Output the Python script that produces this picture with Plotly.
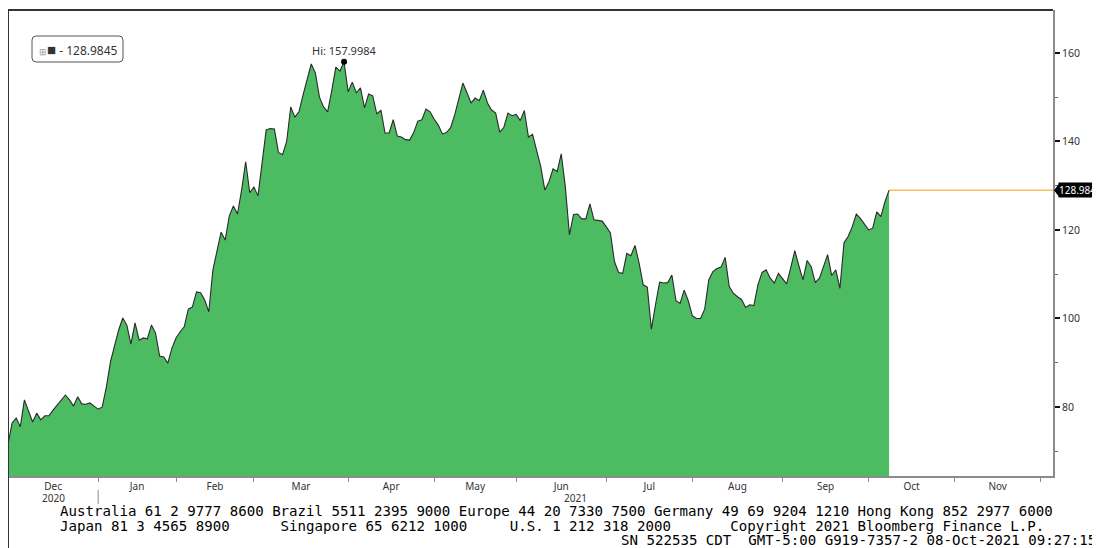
import pandas as pd
import plotly.graph_objects as go

# ---------------- data ----------------
START = "2020-12-01"
AXIS_END = "2021-12-04"
HOLIDAYS = ["2020-12-25", "2021-01-01", "2021-01-18", "2021-02-15", "2021-04-02",
            "2021-05-31", "2021-07-05", "2021-09-06", "2021-11-25"]

VALUES = [
    71.5, 76.4, 77.5, 75.5, 81.6, 78.9, 76.6, 78.6, 77.1, 78.0,
    78.0, 79.3, 80.4, 81.5, 82.7, 81.6, 80.2, 82.3, 80.7, 80.6,
    80.9, 80.2, 79.5, 80.0, 84.5, 90.2, 94.0, 97.4, 100.1, 98.5,
    94.2, 99.0, 95.1, 95.6, 95.4, 98.5, 96.7, 91.5, 91.3, 89.9,
    93.3, 95.6, 97.0, 98.1, 102.1, 102.6, 106.0, 105.8, 104.2, 101.5,
    111.0, 115.5, 119.5, 117.7, 123.2, 125.4, 123.6, 129.0, 135.4, 128.4,
    129.7, 127.7, 135.8, 142.6, 142.9, 142.8, 137.5, 137.0, 140.0, 147.8,
    145.5, 146.7, 150.5, 154.0, 157.5, 155.5, 150.0, 147.8, 146.7, 151.5,
    156.8, 155.9, 157.9984, 151.2, 153.4, 151.0, 152.1, 147.6, 150.7, 150.3,
    146.2, 147.1, 141.9, 141.9, 144.9, 141.2, 141.0, 140.4, 140.3, 142.0,
    144.6, 144.9, 147.3, 146.7, 145.0, 143.7, 141.7, 142.0, 143.1, 146.0,
    149.5, 153.2, 151.0, 148.7, 149.8, 149.2, 151.6, 148.7, 147.1, 146.4,
    142.1, 143.2, 146.4, 145.8, 146.1, 144.7, 147.0, 141.0, 141.6, 138.1,
    134.3, 129.0, 130.9, 133.8, 133.2, 137.2, 129.8, 118.9, 123.5, 123.6,
    122.5, 122.5, 125.9, 122.3, 122.1, 122.0, 120.7, 119.3, 112.8, 110.4,
    110.2, 114.7, 114.2, 116.5, 112.5, 107.6, 107.1, 97.6, 103.1, 108.2,
    108.0, 108.1, 109.8, 104.0, 103.4, 106.4, 104.0, 100.6, 100.0, 100.0,
    102.1, 108.7, 110.6, 111.3, 111.6, 113.8, 107.2, 105.7, 104.9, 104.3,
    102.5, 103.1, 102.9, 107.6, 110.4, 111.0, 109.1, 108.0, 110.2, 108.9,
    107.8, 111.5, 115.3, 111.9, 108.7, 113.1, 111.7, 108.1, 109.1, 111.7,
    114.4, 109.7, 111.0, 106.8, 117.1, 118.5, 120.7, 123.6, 122.6, 121.3,
    120.0, 120.4, 124.1, 123.0, 126.4, 128.9845,
]

LAST_LABEL = "128.984"
LEGEND_TEXT = "128.9845"
Y_RANGE = [64.4, 169.7]
Y_TICKS = [80, 100, 120, 140, 160]
MONTHS = ["2020-12", "2021-01", "2021-02", "2021-03", "2021-04", "2021-05", "2021-06",
          "2021-07", "2021-08", "2021-09", "2021-10", "2021-11", "2021-12"]
FOOTER_1 = "Australia 61 2 9777 8600 Brazil 5511 2395 9000 Europe 44 20 7330 7500 Germany 49 69 9204 1210 Hong Kong 852 2977 6000"
FOOTER_2 = "Japan 81 3 4565 8900      Singapore 65 6212 1000     U.S. 1 212 318 2000       Copyright 2021 Bloomberg Finance L.P."
FOOTER_3 = "SN 522535 CDT  GMT-5:00 G919-7357-2 08-Oct-2021 09:27:15"

# ---------------- geometry helpers ----------------
# the page body has an 8px margin, so the figure is drawn 8px smaller and
# every reference pixel position is shifted by OFF.
OFF = 8
W, H = 1100 - OFF, 548 - OFF
ML, MR, MT, MB = 0, 47, 2, 72
PW, PH = W - ML - MR, H - MT - MB


def px(x):
    return (x - OFF - ML) / PW


def py(y):
    return (H - MB - (y - OFF)) / PH


dates = pd.bdate_range(start=START, periods=len(VALUES), freq="C", holidays=HOLIDAYS)
cal = pd.bdate_range(start=START, end="2021-12-31", freq="C", holidays=HOLIDAYS)
n_axis = int((cal < pd.Timestamp(AXIS_END)).sum())


def pos_to_date(p):
    i = int(p)
    frac = p - i
    return cal[i] + pd.Timedelta(hours=24 * frac)


month_starts, month_mids, month_text = [], [], []
for m in MONTHS:
    per = pd.Period(m, "M")
    idx = [i for i, d in enumerate(cal) if d.to_period("M") == per]
    i0, n = idx[0], len(idx)
    month_starts.append(cal[i0])
    mid = i0 + n / 2
    if mid < n_axis:
        month_mids.append(pos_to_date(mid))
        month_text.append(per.strftime("%b"))

first_2021 = [i for i, d in enumerate(cal) if d.year == 2021][0]
year_pos = {"2020": pos_to_date(first_2021 / 2), "2021": pos_to_date((first_2021 + n_axis) / 2)}

vmax = max(VALUES)
imax = VALUES.index(vmax)
last = VALUES[-1]

fig = go.Figure()
fig.add_trace(go.Scatter(
    x=dates, y=VALUES, mode="lines", fill="tozeroy",
    line=dict(color="#2a2a2a", width=1.1), fillcolor="#4cbb62",
    hoverinfo="skip", showlegend=False,
))
fig.add_trace(go.Scatter(
    x=[dates[imax]], y=[vmax], mode="markers",
    marker=dict(color="black", size=6), showlegend=False, hoverinfo="skip",
))

tick_font = dict(family="Noto Sans", size=10.5, color="#333")
x_font = dict(family="Noto Sans", size=10, color="#333")
fig.update_layout(
    width=W, height=H,
    margin=dict(l=ML, r=MR, t=MT, b=MB),
    paper_bgcolor="white", plot_bgcolor="white",
    font=tick_font,
    xaxis=dict(
        type="date",
        range=[START, AXIS_END],
        rangebreaks=[dict(bounds=["sat", "mon"]), dict(values=HOLIDAYS)],
        tickmode="array", tickvals=month_mids, ticktext=month_text,
        ticks="", showgrid=False, zeroline=False,
        showline=True, linecolor="#8c8c8c", linewidth=2,
        tickfont=x_font, ticklabelstandoff=0,
        minor=dict(tickmode="array", tickvals=month_starts, ticks="outside",
                   ticklen=4, tickwidth=1, tickcolor="#8c8c8c", showgrid=False),
        automargin=False,
    ),
    yaxis=dict(
        side="right", range=Y_RANGE,
        tickmode="array", tickvals=Y_TICKS,
        ticks="outside", ticklen=5, tickwidth=2, tickcolor="#111",
        showgrid=False, zeroline=False,
        showline=True, linecolor="#8c8c8c", linewidth=2,
        tickfont=tick_font,
        minor=dict(dtick=10, tick0=0, ticks="outside", ticklen=3, tickwidth=1,
                   tickcolor="#666", showgrid=False),
        automargin=False,
    ),
)

shapes = []
# frame: top and left borders
shapes.append(dict(type="line", xref="paper", yref="paper", x0=0, x1=1, y0=1, y1=1,
                   line=dict(color="#333", width=2)))
shapes.append(dict(type="line", xref="paper", yref="paper", x0=0, x1=0, y0=py(548), y1=1,
                   line=dict(color="#333", width=2)))
# last-value line
shapes.append(dict(type="line", xref="x", yref="y", x0=dates[-1], x1=pd.Timestamp(AXIS_END),
                   y0=last, y1=last, line=dict(color="#f5a20c", width=1)))
# year separator
shapes.append(dict(type="line", xref="x", yref="paper", x0=cal[first_2021], x1=cal[first_2021],
                   y0=py(490), y1=py(504), line=dict(color="#8c8c8c", width=1)))
# last-value tag pointer
dy = (Y_RANGE[1] - Y_RANGE[0]) * 6.5 / PH
shapes.append(dict(type="path", xref="paper", yref="y",
                   path=f"M {px(1054)},{last} L {px(1059)},{last + dy} L {px(1059)},{last - dy} Z",
                   fillcolor="black", line=dict(width=0)))
# legend rounded box
x0, x1, y0, y1, r = px(32), px(123), py(62), py(36), 4
rx, ry = r / PW, r / PH
shapes.append(dict(
    type="path", xref="paper", yref="paper",
    path=(f"M {x0 + rx},{y0} L {x1 - rx},{y0} Q {x1},{y0} {x1},{y0 + ry} "
          f"L {x1},{y1 - ry} Q {x1},{y1} {x1 - rx},{y1} L {x0 + rx},{y1} "
          f"Q {x0},{y1} {x0},{y1 - ry} L {x0},{y0 + ry} Q {x0},{y0} {x0 + rx},{y0} Z"),
    line=dict(color="#555", width=1), fillcolor="white"))
fig.update_layout(shapes=shapes)

ann = []
ann.append(dict(x=dates[imax], y=vmax, xref="x", yref="y", text=f"Hi: {vmax:.4f}",
                showarrow=False, yanchor="bottom", yshift=2,
                font=dict(family="Noto Sans", size=11, color="#333")))
ann.append(dict(x=px(1058), y=last, xref="paper", yref="y", text=LAST_LABEL,
                showarrow=False, xanchor="left", bgcolor="black", borderpad=0,
                font=dict(family="Noto Sans", size=10, color="white")))
ann.append(dict(x=px(37), y=py(49), xref="paper", yref="paper",
                text=("<span style='color:#999;font-size:9px'>⊞</span>"
                      f"<span style='font-size:15px'>■</span> - {LEGEND_TEXT}"),
                showarrow=False, xanchor="left", yanchor="middle",
                font=dict(family="Noto Sans", size=12, color="#333")))
for yr, pos in year_pos.items():
    ann.append(dict(x=pos, y=py(498.5), xref="x", yref="paper", text=yr, showarrow=False,
                    yanchor="middle", font=x_font))


def nb(s):
    return s.replace(" ", "\u00a0")


foot_font = dict(family="DejaVu Sans Mono", size=14.1, color="black")
ann.append(dict(x=px(58), y=py(511.5), xref="paper", yref="paper", text=nb(FOOTER_1),
                showarrow=False, xanchor="left", yanchor="middle", font=foot_font))
ann.append(dict(x=px(58), y=py(525.5), xref="paper", yref="paper", text=nb(FOOTER_2),
                showarrow=False, xanchor="left", yanchor="middle", font=foot_font))
ann.append(dict(x=px(1098), y=py(540), xref="paper", yref="paper", text=nb(FOOTER_3),
                showarrow=False, xanchor="right", yanchor="middle", font=foot_font))
fig.update_layout(annotations=ann)

fig.write_html("out.html")
